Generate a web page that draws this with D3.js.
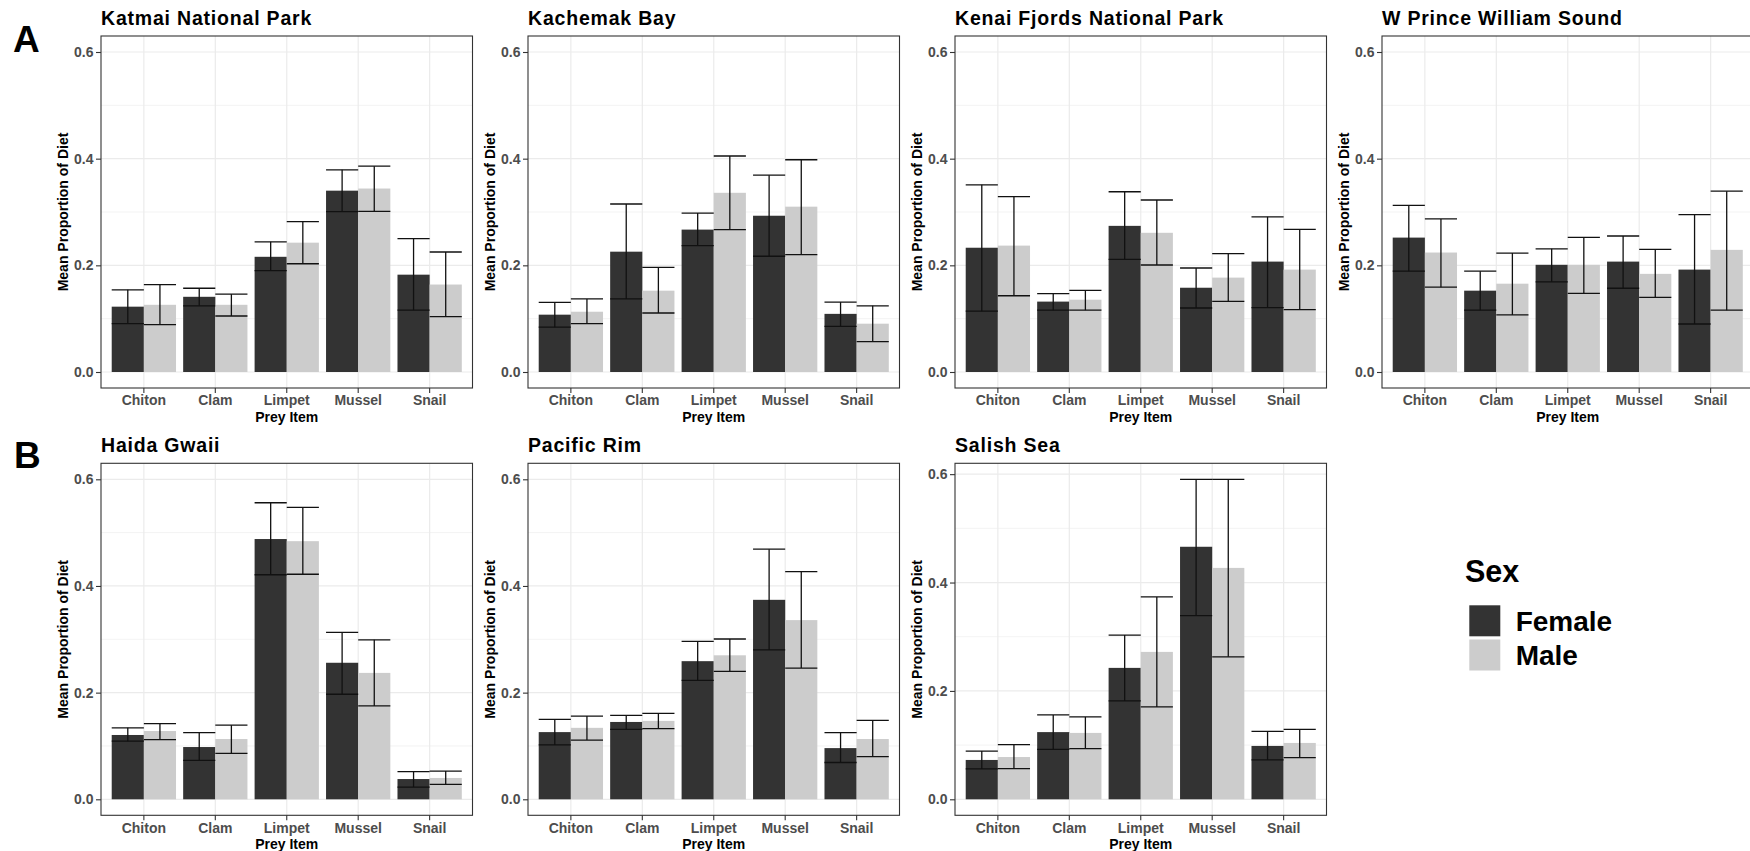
<!DOCTYPE html>
<html>
<head>
<meta charset="utf-8">
<script src="https://cdn.jsdelivr.net/npm/d3@7"></script>
<style>
  html, body { margin: 0; padding: 0; background: #fff; }
  svg { display: block; font-family: "Liberation Sans", Arial, Helvetica, sans-serif; }
</style>
</head>
<body>
<svg id="chart" width="1750" height="851"></svg>
<script>
// Sites, in panel order (row A: Alaska, row B: British Columbia / Washington)
const sites = ["Katmai National Park", "Kachemak Bay", "Kenai Fjords National Park",
               "W Prince William Sound", "Haida Gwaii", "Pacific Rim", "Salish Sea"];
const siteRow = [0, 0, 0, 0, 1, 1, 1];
const siteCol = [0, 1, 2, 3, 0, 1, 2];
// upper limit of each panel's y scale
const yTop = [0.6, 0.6, 0.6, 0.6, 0.6, 0.6, 0.5905];

const prey = ["Chiton", "Clam", "Limpet", "Mussel", "Snail"];
const sexes = ["Female", "Male"];
const sexFill = ["#333333", "#cccccc"];
const yTicks = [0, 0.2, 0.4, 0.6];
const yMinor = [0.1, 0.3, 0.5];

// mean proportion of diet, one row per site, columns follow `prey`
const femaleMean = [
  [0.1225, 0.141, 0.216, 0.340, 0.1825],
  [0.1075, 0.2256, 0.267, 0.293, 0.109],
  [0.233, 0.132, 0.274, 0.158, 0.207],
  [0.252, 0.1525, 0.201, 0.207, 0.192],
  [0.1206, 0.098, 0.488, 0.256, 0.038],
  [0.126, 0.145, 0.259, 0.374, 0.096],
  [0.0726, 0.124, 0.2425, 0.466, 0.0985]
];
const femaleLow = [
  [0.0906, 0.124, 0.190, 0.3006, 0.116],
  [0.084, 0.137, 0.237, 0.217, 0.0856],
  [0.114, 0.116, 0.211, 0.120, 0.1206],
  [0.189, 0.116, 0.169, 0.157, 0.090],
  [0.109, 0.073, 0.421, 0.197, 0.023],
  [0.102, 0.131, 0.223, 0.280, 0.069],
  [0.056, 0.092, 0.1815, 0.339, 0.0726]
];
const femaleHigh = [
  [0.154, 0.157, 0.244, 0.379, 0.250],
  [0.1306, 0.315, 0.298, 0.369, 0.131],
  [0.351, 0.147, 0.338, 0.195, 0.291],
  [0.3125, 0.189, 0.231, 0.255, 0.295],
  [0.134, 0.125, 0.556, 0.313, 0.052],
  [0.150, 0.1575, 0.296, 0.469, 0.125],
  [0.089, 0.1557, 0.303, 0.5905, 0.1255]
];
const maleMean = [
  [0.126, 0.126, 0.2425, 0.344, 0.164],
  [0.113, 0.1525, 0.336, 0.310, 0.0906],
  [0.237, 0.1356, 0.261, 0.177, 0.192],
  [0.224, 0.1656, 0.201, 0.184, 0.229],
  [0.128, 0.113, 0.484, 0.237, 0.040],
  [0.134, 0.147, 0.270, 0.336, 0.113],
  [0.078, 0.1225, 0.272, 0.427, 0.104]
];
const maleLow = [
  [0.089, 0.105, 0.203, 0.301, 0.104],
  [0.0906, 0.1106, 0.267, 0.220, 0.057],
  [0.143, 0.116, 0.2006, 0.1325, 0.117],
  [0.159, 0.107, 0.1475, 0.140, 0.116],
  [0.112, 0.086, 0.422, 0.175, 0.028],
  [0.111, 0.1325, 0.240, 0.246, 0.080],
  [0.0566, 0.0935, 0.1705, 0.263, 0.077]
];
const maleHigh = [
  [0.164, 0.146, 0.282, 0.386, 0.225],
  [0.137, 0.196, 0.405, 0.398, 0.124],
  [0.329, 0.153, 0.3225, 0.222, 0.2675],
  [0.287, 0.223, 0.2525, 0.230, 0.339],
  [0.142, 0.139, 0.5475, 0.299, 0.053],
  [0.156, 0.161, 0.3006, 0.427, 0.148],
  [0.101, 0.152, 0.3735, 0.5905, 0.129]
];

const means = [femaleMean, maleMean];
const lows = [femaleLow, maleLow];
const highs = [femaleHigh, maleHigh];

const svg = d3.select("#chart");
svg.append("rect").attr("width", 1750).attr("height", 851).attr("fill", "#fff");

// panel geometry
const panelW = 371.5, panelH = 352;
const colX = [101, 528, 955, 1382];
const rowY = [36, 463.3];
const rowTitleY = [25, 452];

sites.forEach((site, s) => {
  const x0 = colX[siteCol[s]], y0 = rowY[siteRow[s]];
  const g = svg.append("g").attr("transform", `translate(${x0},${y0})`);

  const x = d3.scaleBand().domain(prey).range([0, panelW])
    .paddingInner(0.1).paddingOuter(0.15);
  const xs = d3.scaleBand().domain(sexes).range([0, x.bandwidth()]);
  const top = yTop[s];
  const y = d3.scaleLinear().domain([-0.05 * top, top * 1.05]).range([panelH, 0]);

  // grid
  g.append("g").selectAll("line").data(yMinor).join("line")
    .attr("x1", 0).attr("x2", panelW)
    .attr("y1", d => y(d)).attr("y2", d => y(d))
    .attr("stroke", "#ebebeb").attr("stroke-width", 0.6);
  g.append("g").selectAll("line").data(yTicks).join("line")
    .attr("x1", 0).attr("x2", panelW)
    .attr("y1", d => y(d)).attr("y2", d => y(d))
    .attr("stroke", "#ebebeb").attr("stroke-width", 1.2);
  g.append("g").selectAll("line").data(prey).join("line")
    .attr("x1", d => x(d) + x.bandwidth() / 2).attr("x2", d => x(d) + x.bandwidth() / 2)
    .attr("y1", 0).attr("y2", panelH)
    .attr("stroke", "#ebebeb").attr("stroke-width", 1.2);

  // bars
  sexes.forEach((sex, k) => {
    g.append("g").selectAll("rect").data(prey).join("rect")
      .attr("x", (d) => x(d) + xs(sex))
      .attr("width", xs.bandwidth())
      .attr("y", (d, i) => y(means[k][s][i]))
      .attr("height", (d, i) => y(0) - y(means[k][s][i]))
      .attr("fill", sexFill[k]);
  });

  // error bars
  sexes.forEach((sex, k) => {
    const eg = g.append("g").attr("stroke", "#111").attr("stroke-width", 1.3).attr("fill", "none");
    prey.forEach((p, i) => {
      const xl = x(p) + xs(sex), xr = xl + xs.bandwidth(), xm = (xl + xr) / 2;
      const lo = y(lows[k][s][i]), hi = y(highs[k][s][i]);
      eg.append("line").attr("x1", xm).attr("x2", xm).attr("y1", lo).attr("y2", hi);
      eg.append("line").attr("x1", xl).attr("x2", xr).attr("y1", hi).attr("y2", hi);
      eg.append("line").attr("x1", xl).attr("x2", xr).attr("y1", lo).attr("y2", lo);
    });
  });

  // border
  g.append("rect").attr("width", panelW).attr("height", panelH)
    .attr("fill", "none").attr("stroke", "#333").attr("stroke-width", 1.1);

  // axes
  const yAxis = d3.axisLeft(y).tickValues(yTicks).tickFormat(d3.format(".1f"))
    .tickSize(5).tickPadding(2.5);
  const ya = g.append("g").call(yAxis);
  const xAxis = d3.axisBottom(x).tickSize(5).tickPadding(2.5);
  const xa = g.append("g").attr("transform", `translate(0,${panelH})`).call(xAxis);
  [ya, xa].forEach(a => {
    a.select(".domain").remove();
    a.selectAll(".tick line").attr("stroke", "#333").attr("stroke-width", 1.1);
    a.selectAll(".tick text").attr("fill", "#4d4d4d").attr("font-size", 14)
      .attr("font-weight", "bold").attr("font-family", "Liberation Sans, Arial, sans-serif");
  });

  // axis titles
  g.append("text").attr("x", panelW / 2).attr("y", panelH + 33.5)
    .attr("text-anchor", "middle").attr("font-size", 14).attr("font-weight", "bold")
    .attr("fill", "#000").text("Prey Item");
  g.append("text")
    .attr("transform", `translate(${-33},${panelH / 2}) rotate(-90)`)
    .attr("text-anchor", "middle").attr("font-size", 14).attr("font-weight", "bold")
    .attr("fill", "#000").text("Mean Proportion of Diet");

  // panel title
  svg.append("text").attr("x", x0).attr("y", rowTitleY[siteRow[s]])
    .attr("font-size", 19.5).attr("letter-spacing", 0.8)
    .attr("font-weight", "bold").attr("fill", "#000").text(site);
});

// row tags
svg.append("text").attr("x", 13).attr("y", 51.7).attr("font-size", 37)
  .attr("font-weight", "bold").text("A");
svg.append("text").attr("x", 14).attr("y", 468.3).attr("font-size", 37)
  .attr("font-weight", "bold").text("B");

// legend
const lg = svg.append("g");
lg.append("text").attr("x", 1465).attr("y", 581.7).attr("font-size", 30.5)
  .attr("font-weight", "bold").text("Sex");
sexes.forEach((sex, k) => {
  const ky = 605.3 + k * 34.2;
  lg.append("rect").attr("x", 1469.3).attr("y", ky).attr("width", 31).attr("height", 31)
    .attr("fill", sexFill[k]);
  lg.append("text").attr("x", 1515.7).attr("y", ky + 25.4).attr("font-size", 28)
    .attr("font-weight", "bold").text(sex);
});
</script>
</body>
</html>
